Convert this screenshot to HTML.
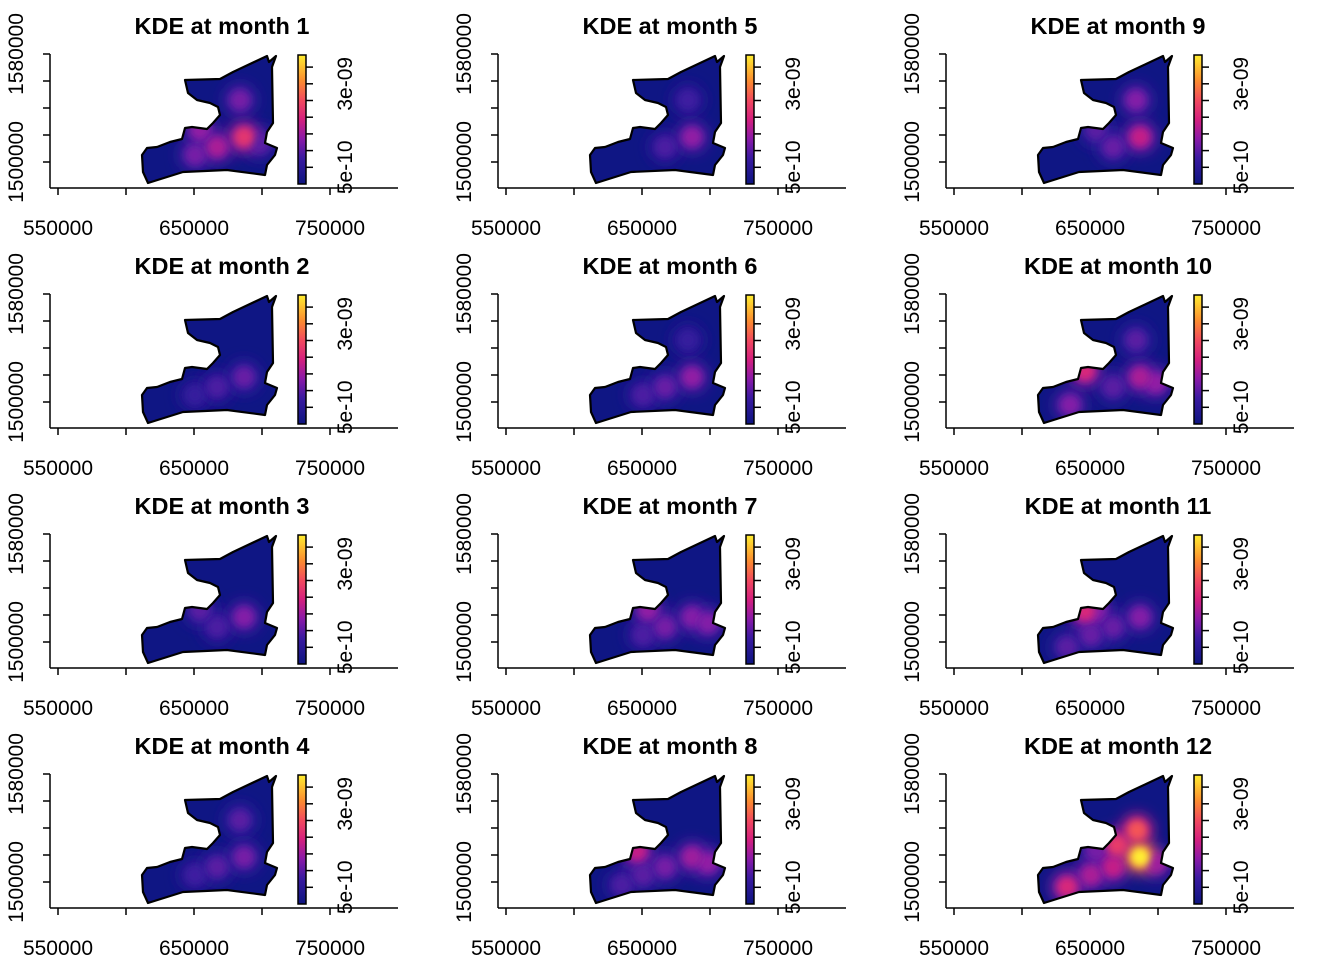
<!DOCTYPE html>
<html><head><meta charset="utf-8"><style>
html,body{margin:0;padding:0;background:#fff;}
svg{display:block;font-family:"Liberation Sans",Arial,sans-serif;}
</style></head><body>
<svg id="chart" width="1344" height="960" viewBox="0 0 1344 960" xmlns="http://www.w3.org/2000/svg">
<defs>
<filter id="blur" x="-100%" y="-100%" width="300%" height="300%"><feGaussianBlur stdDeviation="4"/></filter>
<filter id="blur2" x="-100%" y="-100%" width="300%" height="300%"><feGaussianBlur stdDeviation="7"/></filter>
<linearGradient id="cbar" x1="0" y1="1" x2="0" y2="0">
<stop offset="0" stop-color="#0d1580"/><stop offset="0.2" stop-color="#3a1aa0"/><stop offset="0.35" stop-color="#8a1aa8"/>
<stop offset="0.5" stop-color="#d4207e"/><stop offset="0.65" stop-color="#f24a5e"/><stop offset="0.8" stop-color="#fb8c30"/><stop offset="1" stop-color="#ffee30"/>
</linearGradient>
</defs>
</svg>
<script>
// hotspot locations (easting, northing)
const locE = {A:686800,B:666900,C:654400,D:683800,E:650700,F:633100,G:698500,H:684600,I:669900,J:646300,K:635300};
const locN = {A:1518500,B:1511100,C:1523700,D:1545900,E:1505200,F:1496300,G:1514100,H:1538500,I:1527400,J:1523000,K:1497800};
// months in panel order, and hotspot densities per month
const months = [1,5,9,2,6,10,3,7,11,4,8,12];
const m1 = [["A",2.2e-9],["B",1.6e-9],["C",1.4e-9],["D",1.2e-9],["E",1.2e-9],["G",1.0e-9]];
const m2 = [["A",1.1e-9],["B",0.9e-9],["E",0.7e-9]];
const m3 = [["A",1.3e-9],["C",1.0e-9],["B",0.9e-9]];
const m4 = [["A",1.2e-9],["B",1.0e-9],["D",1.0e-9],["E",0.8e-9]];
const m5 = [["A",1.4e-9],["B",0.9e-9],["D",0.8e-9]];
const m6 = [["A",1.4e-9],["B",1.1e-9],["E",0.9e-9],["D",0.7e-9]];
const m7 = [["A",1.3e-9],["C",1.4e-9],["B",1.2e-9],["G",1.3e-9],["E",0.9e-9]];
const m8 = [["J",1.8e-9],["A",1.5e-9],["B",1.2e-9],["G",1.4e-9],["E",1.0e-9],["K",0.9e-9]];
const m9 = [["A",1.8e-9],["D",1.3e-9],["B",1.1e-9],["C",1.0e-9]];
const m10 = [["J",2.0e-9],["A",1.6e-9],["G",1.4e-9],["K",1.3e-9],["B",1.0e-9],["D",1.0e-9]];
const m11 = [["J",2.0e-9],["C",1.3e-9],["A",1.3e-9],["B",1.1e-9],["E",1.1e-9],["F",1.0e-9]];
const m12 = [["A",3.9e-9],["H",2.6e-9],["I",2.3e-9],["F",2.0e-9],["B",1.8e-9],["E",1.6e-9],["G",1.5e-9],["C",1.2e-9]];
const monthData = {1:m1,2:m2,3:m3,4:m4,5:m5,6:m6,7:m7,8:m8,9:m9,10:m10,11:m11,12:m12};
const xTicks = [550000,600000,650000,700000,750000];
const xLabels = ["550000","650000","750000"];
const yTicks = [1500000,1520000,1540000,1560000,1580000];
const yLabels = ["1500000","1580000"];
const cTicks = [5e-10,1e-9,1.5e-9,2e-9,2.5e-9,3e-9,3.5e-9];
const cLabels = ["5e-10","3e-09"];

const NS="http://www.w3.org/2000/svg";
const svg=document.getElementById('chart');
function mk(tag,attrs,parent){const e=document.createElementNS(NS,tag);for(const k in attrs)e.setAttribute(k,attrs[k]);(parent||svg).appendChild(e);return e;}
const sx=E=>58+(E-550000)/50000*68;
const sy=N=>162-(N-1500000)/20000*27;
const cy=v=>184-v/5e-10*16.7;
const stops=[[0,[13,21,128]],[0.2,[58,26,160]],[0.35,[138,26,168]],[0.5,[212,32,126]],[0.65,[242,74,94]],[0.8,[251,140,48]],[1,[255,238,48]]];
function col(v){let t=Math.max(0,Math.min(1,v/3.85e-9));for(let i=1;i<stops.length;i++){if(t<=stops[i][0]){const a=stops[i-1],b=stops[i];const f=(t-a[0])/(b[0]-a[0]);const c=a[1].map((x,j)=>Math.round(x+(b[1][j]-x)*f));return `rgb(${c.join(',')})`;}}return 'rgb(255,238,48)';}
const poly=[[185,80],[220,79],[233,72],[267,56],[269,62],[276,56],[272,67],[273,123],[267,132],[265,143],[277,148],[275,155],[267,165],[265,175],[227,170],[183,172],[148,183],[143,172],[142,155],[147,148],[157,147],[170,142],[182,139],[185,128],[192,127],[207,129],[213,123],[220,115],[218,107],[210,103],[197,100],[188,93]];
const polyStr=poly.map(p=>p.join(',')).join(' ');

months.forEach((m,idx)=>{
  const col_=idx%3,row=Math.floor(idx/3);
  const g=mk('g',{transform:`translate(${col_*448},${row*240})`});
  
  
  const t=mk('text',{x:222,y:34,'text-anchor':'middle','font-size':23.5,'font-weight':'bold'},g);t.textContent='KDE at month '+m;
  
  
  const cp=mk('clipPath',{id:'clip'+m},g);mk('polygon',{points:polyStr},cp);
  const mg=mk('g',{'clip-path':`url(#clip${m})`},g);
  
  
  mk('polygon',{points:polyStr,fill:'#0f1684'},mg);
  const d=monthData[m].slice().sort((a,b)=>a[1]-b[1]);
  d.forEach(h=>{const c=mk('circle',{cx:sx(locE[h[0]]),cy:sy(locN[h[0]]),r:16,fill:col(h[1]*0.7),filter:'url(#blur2)'},mg);
    
    });
  d.forEach(h=>{const c=mk('circle',{cx:sx(locE[h[0]]),cy:sy(locN[h[0]]),r:10,fill:col(h[1]),filter:'url(#blur)'},mg);
    
    });
  const outline=mk('polygon',{points:polyStr,fill:'none',stroke:'#000','stroke-width':2.2,'stroke-linejoin':'round'},g);
  
  
  const ax=mk('g',{stroke:'#000','stroke-width':1.5,fill:'none'},g);
  
  
  mk('line',{x1:50,y1:188,x2:398,y2:188},ax);
  mk('line',{x1:50,y1:sy(1580000),x2:50,y2:188},ax);
  xTicks.forEach(v=>mk('line',{x1:sx(v),y1:188,x2:sx(v),y2:195},ax));
  yTicks.forEach(v=>mk('line',{x1:43,y1:sy(v),x2:50,y2:sy(v)},ax));
  xLabels.forEach(s=>{const e=mk('text',{x:sx(+s),y:235,'text-anchor':'middle','font-size':21},g);e.textContent=s;
    
    });
  yLabels.forEach(s=>{const yy=sy(+s);const e=mk('text',{x:0,y:0,transform:`translate(23,${yy}) rotate(-90)`,'text-anchor':'middle','font-size':21},g);e.textContent=s;
    
    });
  const cb=mk('rect',{x:298,y:55,width:8,height:129,fill:'url(#cbar)',stroke:'#000','stroke-width':1.5},g);
  
  
  cTicks.forEach(v=>mk('line',{x1:306,y1:cy(v),x2:313,y2:cy(v),stroke:'#000','stroke-width':1.5},g));
  cLabels.forEach(s=>{const e=mk('text',{x:0,y:0,transform:`translate(352,${cy(+s)}) rotate(-90)`,'text-anchor':'middle','font-size':21},g);e.textContent=s;
    
    });
});
</script>
</body></html>
